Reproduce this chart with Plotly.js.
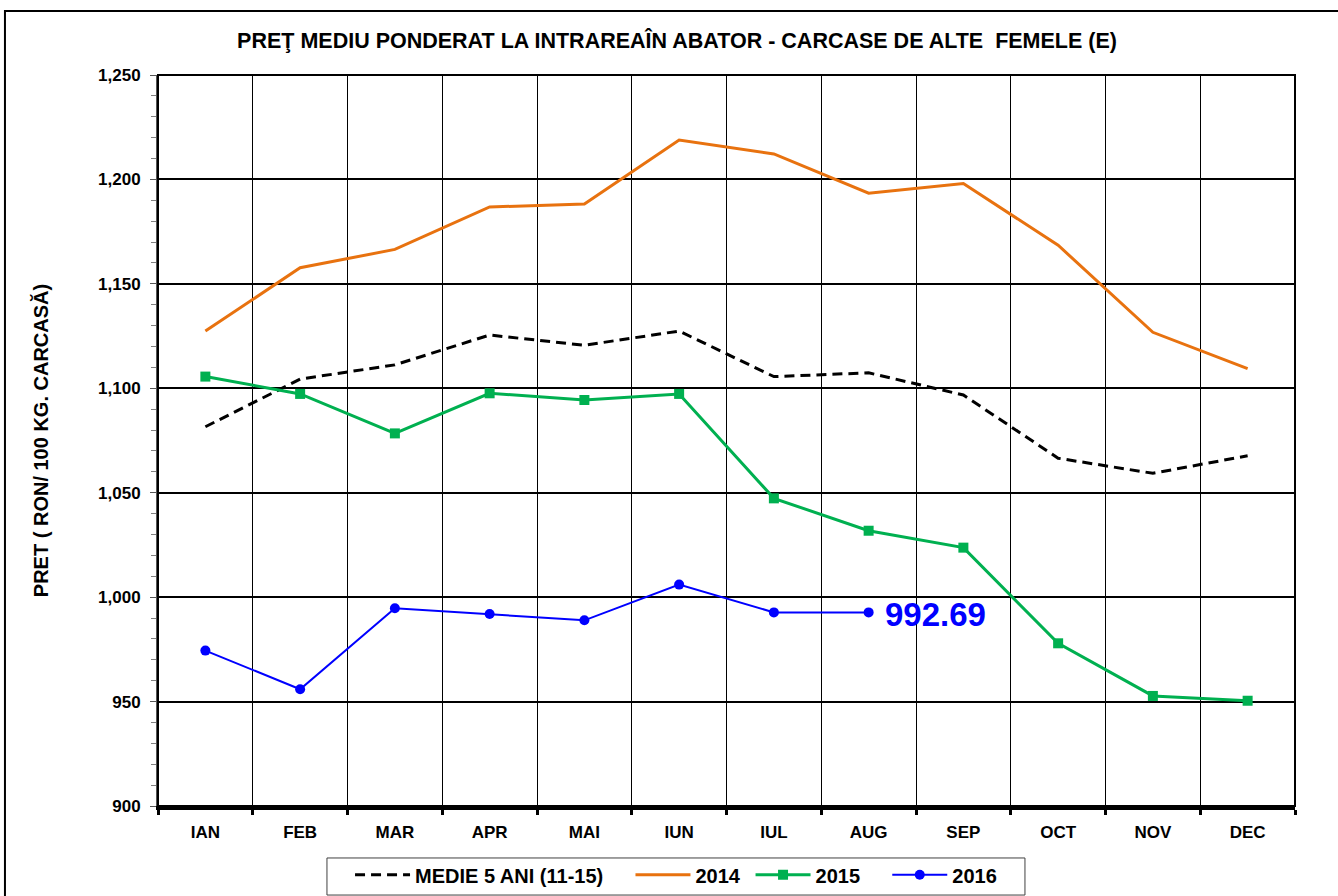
<!DOCTYPE html>
<html>
<head>
<meta charset="utf-8">
<script src="https://cdn.plot.ly/plotly-3.0.1.min.js"></script>
<style>html,body{margin:0;padding:0;background:#fff;}#chart{width:1338px;height:896px;}</style>
</head>
<body>
<div id="chart"></div>
<script>
const months = ['IAN','FEB','MAR','APR','MAI','IUN','IUL','AUG','SEP','OCT','NOV','DEC'];
const medie5ani = [1081.6, 1104.4, 1111.2, 1125.5, 1120.6, 1127.4, 1105.6, 1107.4, 1096.8, 1066.5, 1059.3, 1067.7];
const y2014 = [1127.4, 1157.7, 1166.5, 1186.8, 1188.2, 1218.9, 1212.2, 1193.4, 1198.0, 1168.5, 1126.8, 1109.4];
const y2015 = [1105.6, 1097.3, 1078.4, 1097.6, 1094.4, 1097.3, 1047.3, 1031.8, 1023.7, 977.9, 952.7, 950.4];
const months2016 = ['IAN','FEB','MAR','APR','MAI','IUN','IUL','AUG'];
const y2016 = [974.4, 955.9, 994.7, 991.9, 988.9, 1006.0, 992.7, 992.69];
const lastLabel = '992.69';
const seriesNames = ['MEDIE 5 ANI (11-15)', '2014', '2015', '2016'];

const FONT = 'Liberation Sans, Arial, sans-serif';
const pad = (s, n) => s + '\u00a0'.repeat(n);

const traces = [
  {x: months, y: medie5ani, name: pad(seriesNames[0], 4), type: 'scatter', mode: 'lines',
   line: {color: '#000000', width: 3, dash: '10px,6px'}},
  {x: months, y: y2014, name: pad(seriesNames[1], 1), type: 'scatter', mode: 'lines',
   line: {color: '#E8720F', width: 3}},
  {x: months, y: y2015, name: pad(seriesNames[2], 4), type: 'scatter', mode: 'lines+markers',
   line: {color: '#00B050', width: 3}, marker: {symbol: 'square', size: 10, color: '#00B050'}},
  {x: months2016, y: y2016, name: seriesNames[3], type: 'scatter', mode: 'lines+markers',
   line: {color: '#0000FF', width: 2}, marker: {symbol: 'circle', size: 10, color: '#0000FF'}}
];

const layout = {
  width: 1338, height: 896,
  margin: {l: 158, r: 43, t: 75, b: 90, autoexpand: false},
  paper_bgcolor: '#ffffff', plot_bgcolor: '#ffffff',
  font: {family: FONT, color: '#000000'},
  showlegend: true,
  title: {text: 'PREŢ MEDIU PONDERAT LA INTRAREAÎN ABATOR - CARCASE DE ALTE  FEMELE (E)',
          font: {family: FONT, size: 21.5, color: '#000000', weight: 'bold'},
          x: 0.506, xanchor: 'center', y: 0.955, yanchor: 'middle', xref: 'container', yref: 'container'},
  xaxis: {
    type: 'category', categoryorder: 'array', categoryarray: months,
    range: [-0.5, 11.5], tickson: 'boundaries', automargin: false,
    showgrid: true, gridcolor: '#000000', gridwidth: 1,
    showline: true, linecolor: '#000000', linewidth: 4,
    ticks: 'outside', ticklen: 5, tickcolor: '#000000', tickwidth: 3,
    tickfont: {family: FONT, size: 17, color: '#000000', weight: 'bold'},
    ticklabelstandoff: 8,
    zeroline: false, fixedrange: true
  },
  yaxis: {
    range: [900, 1250], dtick: 50, tick0: 900, tickformat: ',d', automargin: false,
    showgrid: true, gridcolor: '#000000', gridwidth: 2,
    showline: true, linecolor: '#555555', linewidth: 2,
    ticks: 'outside', ticklen: 6, tickcolor: '#555555', tickwidth: 1,
    minor: {dtick: 10, tick0: 900, ticks: 'outside', ticklen: 5, tickcolor: '#808080', tickwidth: 1, showgrid: false},
    tickfont: {family: FONT, size: 17, color: '#000000', weight: 'bold'},
    ticklabelstandoff: 6,
    title: {text: 'PRET ( RON/ 100 KG. CARCASĂ)', font: {family: FONT, size: 20, color: '#000000', weight: 'bold'}, standoff: 44},
    zeroline: false, fixedrange: true
  },
  legend: {
    orientation: 'h', x: 0.1689, xanchor: 'left', xref: 'paper',
    y: -0.094, yanchor: 'middle',
    borderwidth: 0, bgcolor: 'rgba(0,0,0,0)',
    font: {family: FONT, size: 20, color: '#000000', weight: 'bold'},
    itemwidth: 55, tracegroupgap: 0
  },
  shapes: [
    {type: 'rect', xref: 'paper', yref: 'paper', x0: 0, x1: 1, y0: 0, y1: 1,
     line: {color: '#000000', width: 2}, layer: 'above'},
    {type: 'rect', xref: 'paper', yref: 'paper', x0: -0.1346, x1: 1.06, y0: -0.15, y1: 1.0876,
     line: {color: '#000000', width: 2}, layer: 'below'},
    {type: 'rect', xref: 'paper', yref: 'paper', x0: 0.1486, x1: 0.7625, y0: -0.1218, y1: -0.0711,
     line: {color: '#404040', width: 1}, fillcolor: '#ffffff', layer: 'below'}
  ],
  annotations: [
    {x: 'AUG', y: y2016[y2016.length - 1], xref: 'x', yref: 'y', text: lastLabel, showarrow: false,
     xanchor: 'left', yanchor: 'middle', xshift: 14, yshift: -2,
     font: {family: FONT, size: 33, color: '#0000FF', weight: 'bold'}}
  ]
};

Plotly.newPlot('chart', traces, layout, {displayModeBar: false, staticPlot: true});
</script>
</body>
</html>
